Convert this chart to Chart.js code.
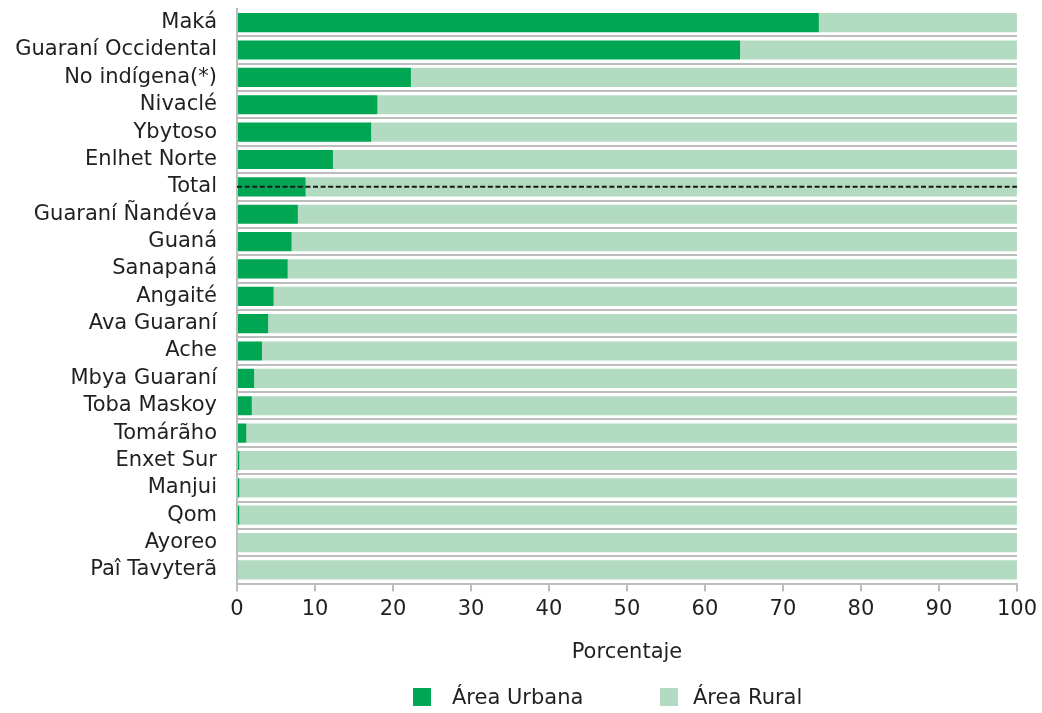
<!DOCTYPE html>
<html>
<head>
<meta charset="utf-8">
<script src="https://cdn.jsdelivr.net/npm/chart.js@4"></script>
<style>
  html, body { margin: 0; padding: 0; background: #fff; }
  #wrap { position: relative; width: 1042px; height: 713px; }
  #legend { position: absolute; left: 0; top: 684px; width: 1042px; font-family: 'DejaVu Sans', sans-serif; font-size: 21px; color: #231f20; }
  .item { position: absolute; top: 0; line-height: 26px; white-space: nowrap; }
  .box { position: absolute; top: 4px; width: 18px; height: 18px; }
</style>
</head>
<body>
<div id="wrap">
  <canvas id="chart" width="1042" height="713"></canvas>
  <div id="legend">
    <div class="item" style="left:413px"><span class="box" style="background:#00a651"></span><span style="margin-left:39px">Área Urbana</span></div>
    <div class="item" style="left:660px"><span class="box" style="background:#b3dbc2"></span><span style="margin-left:33px">Área Rural</span></div>
  </div>
</div>
<script>
// Población indígena por área de residencia (%)
const categories = ['Maká', 'Guaraní Occidental', 'No indígena(*)', 'Nivaclé', 'Ybytoso', 'Enlhet Norte', 'Total',
  'Guaraní Ñandéva', 'Guaná', 'Sanapaná', 'Angaité', 'Ava Guaraní', 'Ache', 'Mbya Guaraní', 'Toba Maskoy',
  'Tomárãho', 'Enxet Sur', 'Manjui', 'Qom', 'Ayoreo', 'Paî Tavyterã'];
const urbana = [74.6, 64.5, 22.3, 18.0, 17.2, 12.3, 8.8, 7.8, 7.0, 6.5, 4.7, 4.0, 3.2, 2.2, 1.9, 1.2, 0.3, 0.3, 0.3, 0, 0];
const rural  = [25.4, 35.5, 77.7, 82.0, 82.8, 87.7, 91.2, 92.2, 93.0, 93.5, 95.3, 96.0, 96.8, 97.8, 98.1, 98.8, 99.7, 99.7, 99.7, 100, 100];
const xTicks = [0, 10, 20, 30, 40, 50, 60, 70, 80, 90, 100];

const green = '#00a651';
const greenLight = '#b3dbc2';
const axisGray = '#bdbdbd';
const textColor = '#231f20';
const fontFamily = "'DejaVu Sans', sans-serif";

// dashed reference line across the "Total" row
const totalLine = {
  id: 'totalLine',
  afterDatasetsDraw(chart) {
    const { ctx, scales: { x, y } } = chart;
    const yy = y.getPixelForValue(categories.indexOf('Total'));
    ctx.save();
    ctx.strokeStyle = '#1a1a1a';
    ctx.lineWidth = 2;
    ctx.setLineDash([5, 2.6]);
    ctx.beginPath();
    ctx.moveTo(x.getPixelForValue(0), yy);
    ctx.lineTo(x.getPixelForValue(100), yy);
    ctx.stroke();
    ctx.restore();
  }
};

new Chart(document.getElementById('chart'), {
  type: 'bar',
  data: {
    labels: categories,
    datasets: [
      { label: 'Área Urbana', data: urbana, backgroundColor: green, borderWidth: 0, barPercentage: 0.7, categoryPercentage: 1 },
      { label: 'Área Rural', data: rural, backgroundColor: greenLight, borderWidth: 0, barPercentage: 0.7, categoryPercentage: 1 }
    ]
  },
  options: {
    indexAxis: 'y',
    responsive: false,
    animation: false,
    layout: { padding: { top: 9, right: 24, bottom: 48, left: 0 } },
    plugins: { legend: { display: false }, tooltip: { enabled: false } },
    scales: {
      x: {
        stacked: true,
        min: 0,
        max: 100,
        afterBuildTicks(scale) { scale.ticks = xTicks.map(v => ({ value: v })); },
        ticks: { color: textColor, font: { family: fontFamily, size: 21 }, padding: 5, maxRotation: 0 },
        grid: { drawOnChartArea: false, drawTicks: true, tickLength: 8, color: axisGray, lineWidth: 2 },
        border: { color: axisGray, width: 2 },
        title: { display: true, text: 'Porcentaje', color: textColor, font: { family: fontFamily, size: 21 }, padding: { top: 13, bottom: 0 } }
      },
      y: {
        stacked: true,
        afterFit(scale) { scale.width = 237; scale.paddingTop = 0; scale.paddingBottom = 0; },
        ticks: { color: textColor, font: { family: fontFamily, size: 21 }, padding: 20, autoSkip: false },
        grid: {
          drawTicks: false,
          lineWidth: 2,
          color: ctx => ctx.index === 0 ? 'rgba(0,0,0,0)' : axisGray
        },
        border: { color: axisGray, width: 2 }
      }
    }
  },
  plugins: [totalLine]
});
</script>
</body>
</html>
